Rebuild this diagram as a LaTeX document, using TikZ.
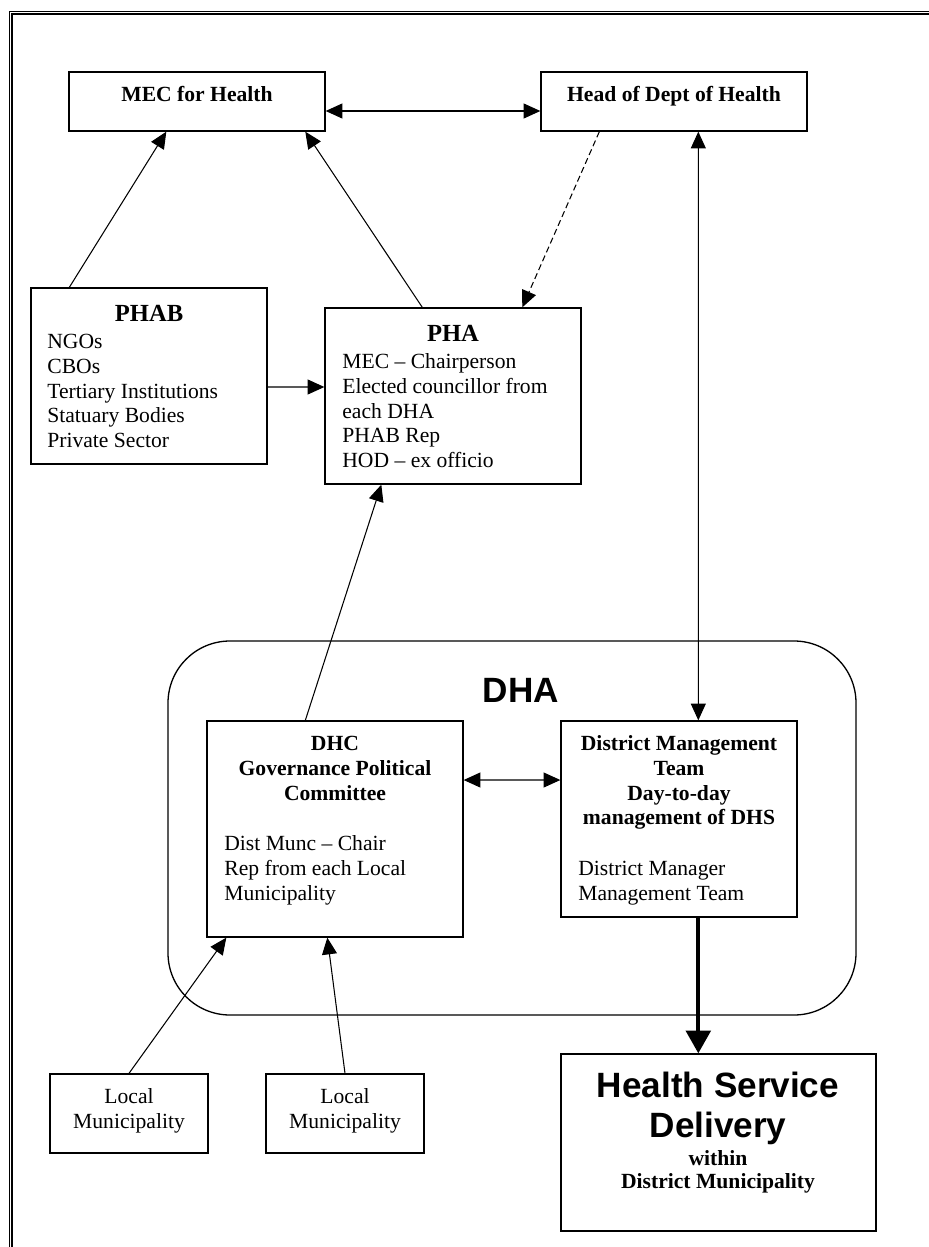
\documentclass[tikz,border=0pt]{standalone}
\usepackage{fontspec}
\setmainfont{Liberation Serif}
\newfontfamily\arialfont{Liberation Sans}
\usetikzlibrary{arrows.meta, fit}

\begin{document}
\begin{tikzpicture}[x=0.02cm, y=-0.02cm, >={Triangle[length=9.5pt,width=8.5pt]},
    box/.style={draw, line width=0.75pt, inner sep=0pt},
    link/.style={line width=0.6pt},
    txt/.style={inner sep=0pt, font=\fontsize{12.3}{14.17}\selectfont},
    head/.style={inner sep=0pt, font=\fontsize{12.3}{14.17}\selectfont\bfseries}]
    \useasboundingbox (0,0) rectangle (929,1247);
    % page frame
    \draw[line width=0.9pt] (9.3,1247) -- (9.3,11.6) -- (929,11.6);
    \draw[line width=0.9pt] (11.9,1247) -- (11.9,13.9) -- (929,13.9);

    % boxes
    \node[box, fit={(69,72) (325,131)}] (mec) {};
    \node[box, fit={(541,72) (807,131)}] (hod) {};
    \node[box, fit={(31,288) (267,464)}] (phab) {};
    \node[box, fit={(325,308) (581,484)}] (pha) {};
    \node[box, rounded corners=1.24cm, fit={(168,641) (856,1015)}] (dha) {};
    \node[box, fit={(207,721) (463,937)}] (dhc) {};
    \node[box, fit={(561,721) (797,917)}] (dmt) {};
    \node[box, fit={(50,1074) (208,1153)}] (lm1) {};
    \node[box, fit={(266,1074) (424,1153)}] (lm2) {};
    \node[box, fit={(561,1054) (876,1231)}] (hsd) {};

    % texts
    \node[head, anchor=base] (mectext) at (197,102) {MEC for Health};
    \node[head, anchor=base] (hodtext) at (674,102) {Head of Dept of Health};
    \node[head, anchor=base, font=\fontsize{14}{16}\selectfont\bfseries] (phabtitle) at (149,321) {PHAB};
    \node[txt, anchor=north west, align=left] (phabtext) at (47,330.5)
        {\strut NGOs\\CBOs\\Tertiary Institutions\\Statuary Bodies\\Private Sector};
    \node[head, anchor=base, font=\fontsize{14}{16}\selectfont\bfseries] (phatitle) at (453,341) {PHA};
    \node[txt, anchor=north west, align=left] (phatext) at (342,350.5)
        {\strut MEC – Chairperson\\Elected councillor from\\each DHA\\PHAB Rep\\HOD – ex officio};
    \node[anchor=base, inner sep=0pt, font=\arialfont\bfseries\fontsize{20}{24}\selectfont] (dhalabel) at (521,702.6) {DHA};
    \node[head, anchor=north, align=center] (dhctitle) at (335,732.5)
        {\strut DHC\\Governance Political\\Committee};
    \node[txt, anchor=north west, align=left] (dhctext) at (224,832.5)
        {\strut Dist Munc – Chair\\Rep from each Local\\Municipality};
    \node[head, anchor=north, align=center] (dmttitle) at (679,732.5)
        {\strut District Management\\Team\\Day-to-day\\management of DHS};
    \node[txt, anchor=north west, align=left] (dmttext) at (578,857.5)
        {\strut District Manager\\Management Team};
    \node[txt, anchor=north, align=center] (lm1text) at (129,1085.5) {\strut Local\\Municipality};
    \node[txt, anchor=north, align=center] (lm2text) at (345,1085.5) {\strut Local\\Municipality};
    \node[anchor=north, align=center, inner sep=0pt, font=\arialfont\bfseries\fontsize{20}{22.7}\selectfont] (hsdtitle) at (718,1069.6)
        {\strut Health Service\\Delivery};
    \node[head, anchor=north, align=center, font=\fontsize{12.3}{13.6}\selectfont\bfseries] (hsdtext) at (718,1148)
        {\strut within\\District Municipality};

    % connectors
    \draw[link, <->] ([yshift=-0.19cm]mec.east) -- ([yshift=-0.19cm]hod.west);
    \draw[link, ->] ([xshift=0.78cm]phab.north west) -- ([xshift=1.96cm]mec.south west);
    \draw[link, ->] ([xshift=1.96cm]pha.north west) -- ([xshift=4.74cm]mec.south west);
    \draw[link, ->, dash pattern=on 3.5pt off 2pt] ([xshift=1.18cm]hod.south west) -- ([xshift=3.96cm]pha.north west);
    \draw[link, <->] ([xshift=3.16cm]hod.south west) -- ([xshift=2.76cm]dmt.north west);
    \draw[link, ->] ([yshift=-0.22cm]phab.east) -- ([yshift=0.18cm]pha.west);
    \draw[link, ->] ([xshift=1.98cm]dhc.north west) -- ([xshift=1.14cm]pha.south west);
    \draw[link, <->] ([yshift=0.98cm]dhc.east) -- ([yshift=0.78cm]dmt.west);
    \draw[link, ->] (lm1.north) -- ([xshift=0.4cm]dhc.south west);
    \draw[link, ->] (lm2.north) -- ([xshift=2.42cm]dhc.south west);
    \draw[line width=2.3pt, -{Triangle[length=13pt,width=14pt]}] ([xshift=2.76cm]dmt.south west) -- ([xshift=2.76cm]hsd.north west);
\end{tikzpicture}
\end{document}
